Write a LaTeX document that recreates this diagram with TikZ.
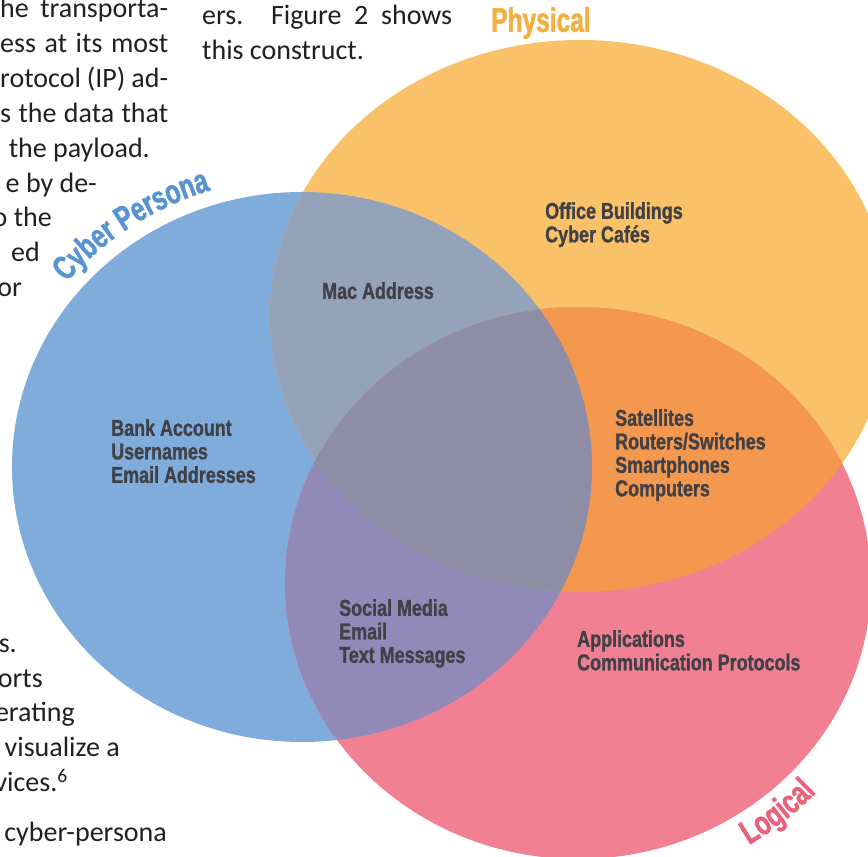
\documentclass[tikz,border=0pt]{standalone}
\usepackage{fontspec}
\usepackage{xcolor}
\usetikzlibrary{decorations.text}
\setmainfont{Carlito}
\newfontfamily\vennfont[FakeStretch=0.78,FakeBold=1]{Liberation Sans}
\newfontfamily\setnamefamily[FakeStretch=0.72,FakeBold=1.5]{Liberation Sans}
\newcommand{\setnamefont}{\setnamefamily\bfseries\fontsize{34}{34}\selectfont}

\definecolor{cyberblue}{RGB}{127,172,218}
\definecolor{physorange}{RGB}{249,194,104}
\definecolor{logicpink}{RGB}{241,128,146}
\definecolor{cyberphys}{RGB}{148,163,186}
\definecolor{cyberlogic}{RGB}{145,137,184}
\definecolor{physlogic}{RGB}{243,152,78}
\definecolor{allthree}{RGB}{141,141,165}
\definecolor{cyberlabel}{RGB}{88,148,210}
\definecolor{physlabel}{RGB}{243,176,64}
\definecolor{logiclabel}{RGB}{234,98,122}
\definecolor{labelgray}{RGB}{64,64,70}
\definecolor{bodygray}{RGB}{35,31,32}

\begin{document}
\begin{tikzpicture}[x=1pt, y=1pt,
  bodytext/.style={font=\fontsize{28}{34}\selectfont, text=bodygray, inner sep=0pt},
  setlabel/.style={font=\vennfont\bfseries\fontsize{23}{23.5}\selectfont, text=labelgray, align=left, anchor=north west, inner sep=0pt}]
\useasboundingbox (0,0) rectangle (868,857);
\clip (0,0) rectangle (868,857);

% circle centres
\coordinate (cyber) at (302,390);
\coordinate (phys) at (580,541);
\coordinate (logic) at (578,274);

% the three sets
\fill[cyberblue] (cyber) ellipse [x radius=290, y radius=275];
\fill[physorange] (phys) ellipse [x radius=310, y radius=276];
\fill[logicpink] (logic) ellipse [x radius=293, y radius=276];

% overlaps
\begin{scope}
\clip (cyber) ellipse [x radius=290, y radius=275];
\fill[cyberphys] (phys) ellipse [x radius=310, y radius=276];
\fill[cyberlogic] (logic) ellipse [x radius=293, y radius=276];
\end{scope}
\begin{scope}
\clip (phys) ellipse [x radius=310, y radius=276];
\fill[physlogic] (logic) ellipse [x radius=293, y radius=276];
\end{scope}
\begin{scope}
\clip (cyber) ellipse [x radius=290, y radius=275];
\clip (phys) ellipse [x radius=310, y radius=276];
\fill[allthree] (logic) ellipse [x radius=293, y radius=276];
\end{scope}

% set names
\node[font=\setnamefont, text=physlabel, inner sep=0pt] (physname) at (541,834) {Physical};
\path[decorate, decoration={text along path, text align=center,
  text={|\setnamefont\color{cyberlabel}|Cyber Persona}}]
  ([shift={(144:305 and 290)}]cyber) arc[start angle=144, end angle=104, x radius=305, y radius=290];
\path[decorate, decoration={text along path, text align=center,
  text={|\setnamefont\color{logiclabel}|Logical}}]
  ([shift={(-63:325 and 308)}]logic) arc[start angle=-63, end angle=-38, x radius=325, y radius=308];

% region contents
\node[setlabel] (macaddr) at (322,575) {Mac Address};
\node[setlabel] (office) at (545,655) {Office Buildings\\Cyber Cafés};
\node[setlabel] (bank) at (111,438) {Bank Account\\Usernames\\Email Addresses};
\node[setlabel] (devices) at (615,448) {Satellites\\Routers/Switches\\Smartphones\\Computers};
\node[setlabel] (social) at (339,258) {Social Media\\Email\\Text Messages};
\node[setlabel] (apps) at (577,227) {Applications\\Communication Protocols};

% surrounding page text
\node[bodytext, anchor=base west] (l1) at (0,839) {\makebox[168pt][s]{he transporta-}};
\node[bodytext, anchor=base west] (l2) at (0,804) {\makebox[168pt][s]{ess at its most}};
\node[bodytext, anchor=base west] (l3) at (0,769) {\makebox[168pt][s]{rotocol (IP) ad-}};
\node[bodytext, anchor=base west] (l4) at (0,734) {\makebox[168pt][s]{s the data that}};
\node[bodytext, anchor=base east] (l5) at (150,699) {the payload.};
\node[bodytext, anchor=base east] (l6) at (97,664) {e by de-};
\node[bodytext, anchor=base east] (l7) at (52,630) {o the};
\node[bodytext, anchor=base east] (l8) at (40,595) {ed};
\node[bodytext, anchor=base east] (l9) at (22,560) {or};
\node[bodytext, anchor=base east] (l10) at (17,204) {s.};
\node[bodytext, anchor=base east] (l11) at (43,169) {orts};
\node[bodytext, anchor=base east] (l12) at (75,135) {erating};
\node[bodytext, anchor=base east] (l13) at (120,100) {visualize a};
\node[bodytext, anchor=base east] (l14) at (68,65) {vices.\textsuperscript{6}};
\node[bodytext, anchor=base east] (l15) at (167,15) {cyber-persona};
\node[bodytext, anchor=base west] (r1) at (202,832) {\makebox[250pt][s]{ers. Figure 2 shows}};
\node[bodytext, anchor=base west] (r2) at (202,797) {this construct.};
\end{tikzpicture}
\end{document}
